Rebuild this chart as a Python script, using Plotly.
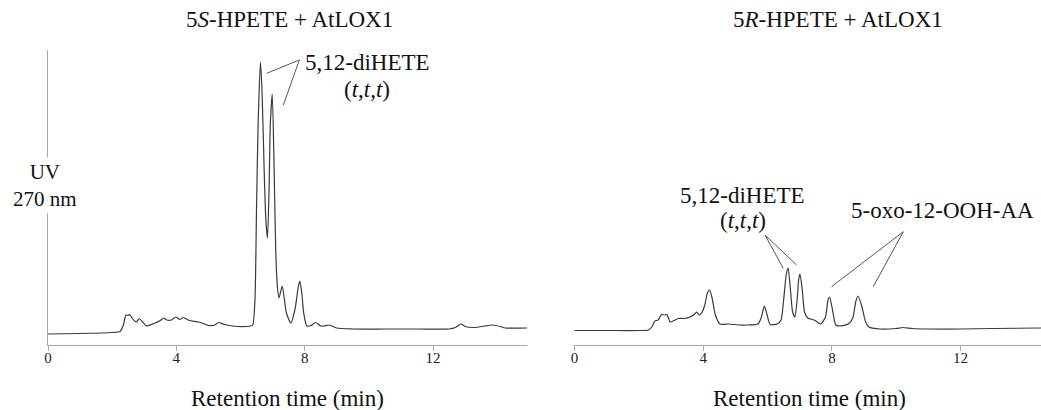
import plotly.graph_objects as go

# ---- data ----
t_5S = [0, 1.0, 2.0, 2.25, 2.35, 2.43, 2.5, 2.55, 2.62, 2.7, 2.76, 2.84, 2.95, 3.07, 3.3, 3.5, 3.6, 3.7,
        3.85, 3.98, 4.1, 4.22, 4.4, 4.7, 5.0, 5.2, 5.32, 5.5, 5.9, 6.3, 6.38, 6.45, 6.5, 6.55, 6.62,
        6.67, 6.74, 6.79, 6.84, 6.89, 6.93, 6.99, 7.05, 7.1, 7.15, 7.2, 7.3, 7.43, 7.57, 7.7, 7.8,
        7.85, 7.91, 7.97, 8.07, 8.2, 8.34, 8.5, 8.6, 8.78, 8.99, 9.5, 10.5, 11.5, 12.5, 12.7, 12.87,
        13.0, 13.3, 13.6, 13.87, 14.1, 14.25, 14.93]
uv_5S = [11, 11.5, 12.5, 13.5, 20, 30, 29.5, 30.5, 27, 24, 23, 26.5, 23, 19, 21.5, 24.5, 27, 25,
         25, 28, 25.5, 27.5, 24.5, 23, 19.5, 20, 22.5, 20.5, 18.5, 19, 20, 45, 138, 222, 283,
         255, 172, 125, 107, 155, 222, 251, 172, 92, 58, 47, 59, 32, 22, 36, 58,
         64, 52, 32, 19, 19.5, 22.5, 19, 19, 20, 17, 16, 16, 16, 16, 17.5, 21,
         18.5, 17.5, 19, 20, 18.5, 17, 17]

t_5R = [0, 1.0, 2.0, 2.3, 2.4, 2.5, 2.6, 2.7, 2.8, 2.87, 2.92, 2.97, 3.1, 3.23, 3.4, 3.55, 3.7, 3.8,
        3.88, 3.95, 4.05, 4.13, 4.2, 4.27, 4.38, 4.52, 4.8, 5.1, 5.4, 5.7, 5.8, 5.9, 5.98, 6.08,
        6.3, 6.42, 6.5, 6.58, 6.64, 6.7, 6.78, 6.85, 6.92, 6.97, 7.01, 7.08, 7.15, 7.25, 7.45,
        7.65, 7.8, 7.88, 7.93, 8.02, 8.12, 8.25, 8.51, 8.65, 8.74, 8.81, 8.92, 9.05, 9.15, 9.5,
        10.0, 10.2, 10.5, 11.0, 12.0, 13.0, 14.5]
uv_5R = [14.5, 14.5, 14.5, 15, 18, 24, 25, 30.5, 30, 30.5, 27, 23, 24.5, 26.5, 26.5, 27.5, 30, 33,
         30, 32, 40, 52, 55, 48, 30, 21, 21, 20, 20, 21, 27, 39, 31, 20.5,
         21, 25, 45, 70, 77, 60, 33, 28, 45, 66, 71, 55, 33, 27, 25,
         21, 28, 45, 48, 35, 20, 19, 21, 27, 43, 49, 40, 23, 18, 16,
         16.5, 17.5, 16.5, 16, 16, 16.5, 17]

x_ticks = [0, 4, 8, 12]
panel_titles = ["5<i>S</i>-HPETE + AtLOX1", "5<i>R</i>-HPETE + AtLOX1"]

# ---- figure ----
SERIF = "'Liberation Serif', 'Times New Roman', serif"
LINE_C = "#3a3a3a"
AX_C = "#a8a8a8"

fig = go.Figure()
fig.add_trace(go.Scatter(x=t_5S, y=uv_5S, mode="lines", xaxis="x", yaxis="y",
                         line=dict(color=LINE_C, width=1.2, shape="spline", smoothing=0.6),
                         hoverinfo="skip", showlegend=False))
fig.add_trace(go.Scatter(x=t_5R, y=uv_5R, mode="lines", xaxis="x2", yaxis="y2",
                         line=dict(color=LINE_C, width=1.2, shape="spline", smoothing=0.6),
                         hoverinfo="skip", showlegend=False))

xcommon = dict(showline=True, linecolor=AX_C, linewidth=1, ticks="outside", ticklen=5,
               tickcolor=AX_C, tickwidth=1, tickvals=x_ticks, showgrid=False, zeroline=False,
               ticklabelstandoff=-6,
               tickfont=dict(family=SERIF, size=15, color="#222"))
fig.update_layout(
    width=1041, height=410,
    margin=dict(l=48, r=0, t=50, b=65),
    paper_bgcolor="white", plot_bgcolor="white",
    font=dict(family=SERIF, color="#111"),
    xaxis=dict(domain=[0, 0.4824], range=[0, 14.93], anchor="y", **xcommon),
    xaxis2=dict(domain=[0.5302, 1], range=[0, 14.5], anchor="y2", **xcommon),
    yaxis=dict(domain=[0, 1], range=[0, 295], anchor="x", showline=True, linecolor=AX_C,
               linewidth=1, showticklabels=False, ticks="", showgrid=False, zeroline=False),
    yaxis2=dict(domain=[0, 1], range=[0, 295], anchor="x2", showline=False,
                showticklabels=False, ticks="", showgrid=False, zeroline=False),
)

FONT = dict(family=SERIF, size=23, color="#111")
ann = []
# panel titles
ann.append(dict(text=panel_titles[0], xref="paper", yref="paper", x=0.2437, y=1.1017,
                showarrow=False, font=FONT, xanchor="center", yanchor="middle"))
ann.append(dict(text=panel_titles[1], xref="paper", yref="paper", x=0.7956, y=1.1017,
                showarrow=False, font=FONT, xanchor="center", yanchor="middle"))
# axis titles
for xc in (0.2412, 0.7673):
    ann.append(dict(text="Retention time (min)", xref="paper", yref="paper", x=xc, y=-0.1797,
                    showarrow=False, font=FONT, xanchor="center", yanchor="middle"))
# UV label masking the y axis line
ann.append(dict(text="UV<br>270 nm", xref="paper", yref="paper", x=-0.0030, y=0.541,
                showarrow=False, font=dict(family=SERIF, size=21, color="#111"),
                xanchor="center", yanchor="middle", bgcolor="white", borderpad=2))
# peak labels, left panel
ann.append(dict(text="5,12-diHETE", xref="x", yref="y", x=7.94, y=282.3, showarrow=False,
                font=FONT, xanchor="left", yanchor="middle"))
ann.append(dict(text="(<i>t</i>,<i>t</i>,<i>t</i>)", xref="x", yref="y", x=9.93, y=256,
                showarrow=False, font=FONT, xanchor="center", yanchor="middle"))
# peak labels, right panel
ann.append(dict(text="5,12-diHETE", xref="x2", yref="y2", x=5.227, y=150, showarrow=False,
                font=FONT, xanchor="center", yanchor="middle"))
ann.append(dict(text="(<i>t</i>,<i>t</i>,<i>t</i>)", xref="x2", yref="y2", x=5.227, y=125,
                showarrow=False, font=FONT, xanchor="center", yanchor="middle"))
ann.append(dict(text="5-oxo-12-OOH-AA", xref="x2", yref="y2", x=11.45, y=135, showarrow=False,
                font=FONT, xanchor="center", yanchor="middle"))
fig.update_layout(annotations=ann)

# leader lines
leaders = [
    ("x", "y", 6.817, 271.7, 7.833, 285),
    ("x", "y", 7.335, 240, 7.833, 285),
    ("x2", "y2", 5.92, 110, 6.49, 76.7),
    ("x2", "y2", 5.92, 110, 6.905, 80),
    ("x2", "y2", 10.22, 113.3, 7.99, 58.3),
    ("x2", "y2", 10.22, 113.3, 9.285, 58.3),
]
for xr, yr, x0, y0, x1, y1 in leaders:
    fig.add_shape(type="line", xref=xr, yref=yr, x0=x0, y0=y0, x1=x1, y1=y1,
                  line=dict(color="#555", width=1))

fig.write_html("out.html")
